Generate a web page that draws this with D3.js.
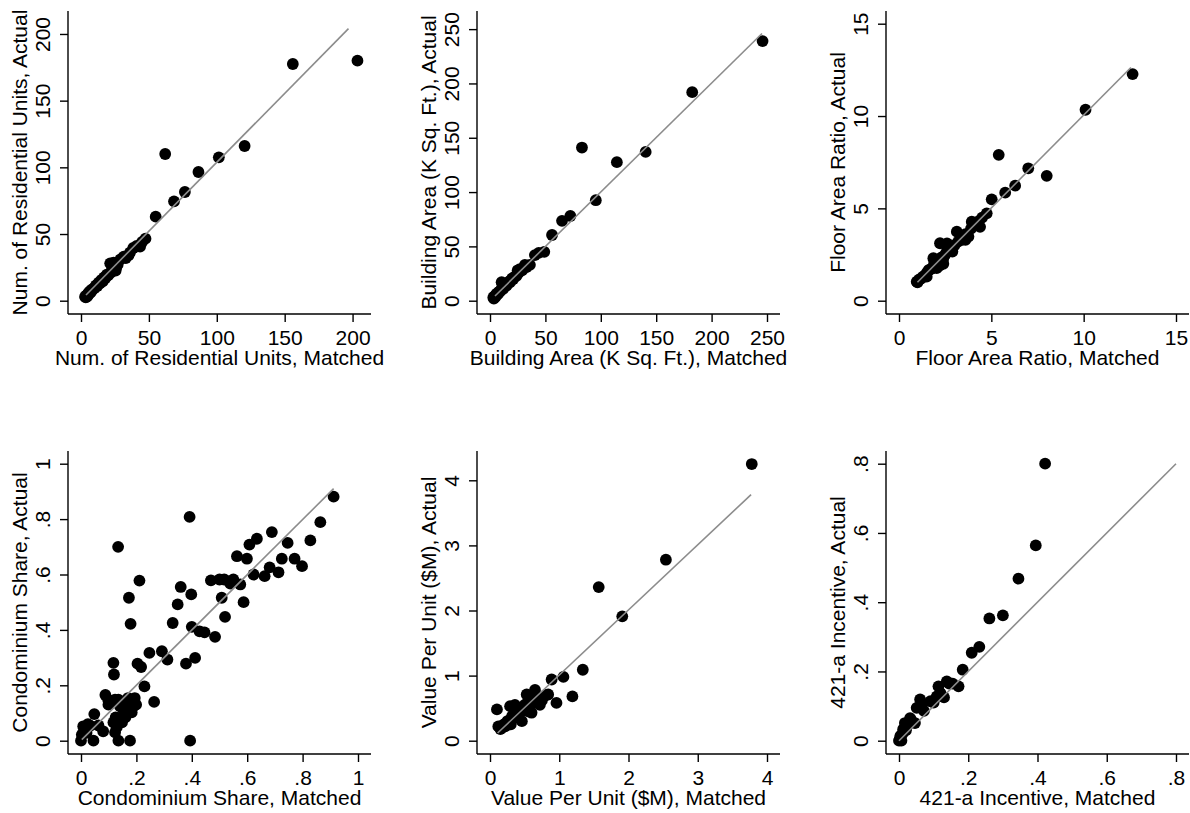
<!DOCTYPE html>
<html>
<head>
<meta charset="utf-8">
<script src="https://cdn.jsdelivr.net/npm/d3@7"></script>
<style>
  body { margin: 0; background: #fff; }
  svg { display: block; font-family: "Liberation Sans", Arial, sans-serif; }
</style>
</head>
<body>
<script>
// matched vs actual, one pair of arrays per panel
var unitsMatched = [203.6,156,120.5,101.5,86.5,62,76.5,68.5,55,47.5,43.5,38.5,31.5,29,21.5,25.5,24,
  3,3.5,4,4.5,5,5.5,6,7,7.5,8,9,10,11,12,13,14,15,16,17,18,19,20,22,23,26,27,33,35,36,41,45];
var unitsActual = [180,177.5,116,107.5,96.5,110,81.5,74.5,63,46.5,40.5,39.5,33,31,28,22.5,28.5,
  3,2.5,4,3,5,4.5,6.5,6,8,7.5,9,9.5,11.5,11,13.5,13,15.5,14.5,17.5,17,19.5,19,21,24,25,27,32,34,36,41,44];

var areaMatched = [246,182.5,140.5,114.5,83,95.5,72.5,65,56,49,44,40.5,36,31.5,27,25,10.5,
  3,3.5,4,5,5,6,7,8,9,10,11,12,13,14,15,16,17,18,19,20,21,22,24,26,29,33];
var areaActual = [239,192,137,127.5,141,92.5,78,73.5,60.5,45,44,42,33,33,29,28,17,
  3,2,4,5,3.5,6.5,6,8,8.5,10,11.5,11,13,14.5,14,16,17.5,17,19,20.5,20,22,23,26,28,31];

var farMatched = [12.65,10.1,5.4,7.0,8.0,6.29,5.75,5.02,4.75,4.5,4.39,3.94,3.13,3.76,3.4,2.22,2.89,1.86,2.04,0.96,
  1.0,1.1,1.2,1.3,1.4,1.5,1.6,1.7,1.8,1.9,2.0,2.1,2.2,2.3,2.4,2.5,2.6,2.7,2.8,3.0,3.2,3.4,3.6,3.9,4.1,4.3,2.6,2.4,2.2,1.5,3.6];
var farActual = [12.27,10.34,7.9,7.17,6.76,6.23,5.85,5.49,4.73,4.5,4.0,4.28,3.74,3.47,3.29,3.11,2.66,2.3,1.76,1.03,
  1.0,1.15,1.2,1.3,1.35,1.5,1.65,1.7,1.75,2.0,2.05,2.1,2.2,2.35,2.3,2.5,2.7,2.75,2.85,3.0,3.2,3.5,3.6,3.9,4.1,4.3,3.1,2.0,1.9,1.3,3.3];

var condoMatched = [0.912,0.864,0.828,0.689,0.635,0.608,0.746,0.563,0.599,0.725,0.771,0.798,0.623,0.663,0.681,0.713,
  0.575,0.539,0.517,0.5,0.469,0.55,0.508,0.587,0.52,0.484,0.446,0.428,0.4,0.398,0.36,0.349,0.331,0.392,0.412,0.379,
  0.312,0.292,0.247,0.217,0.204,0.211,0.173,0.179,0.134,0.117,0.119,0.229,0.264,0.088,0.099,0.048,0.177,0.394,0.135,
  0.045,0,0.008,0.033,0.08,0.063,0.02,0.003,0.123,0.141,0.165,0.189,0.199,0.183,0.154,0.125,0.117,0.129,0.123,0.135,
  0.17,0.105,0.16,0.148,0.194,0.098,0.012,0.025];
var condoActual = [0.881,0.789,0.723,0.753,0.729,0.708,0.714,0.666,0.657,0.657,0.657,0.63,0.6,0.594,0.626,0.608,
  0.564,0.567,0.582,0.582,0.579,0.582,0.516,0.5,0.447,0.375,0.391,0.395,0.411,0.528,0.555,0.492,0.425,0.808,0.299,0.278,
  0.293,0.323,0.317,0.266,0.278,0.578,0.516,0.422,0.7,0.281,0.239,0.196,0.14,0.165,0.13,0.096,0,0,0,
  0,0,0.052,0.054,0.034,0.055,0.028,0.022,0.148,0.124,0.136,0.124,0.13,0.102,0.108,0.084,0.066,0.049,0.03,0.148,
  0.154,0.136,0.084,0.066,0.154,0.148,0.04,0.06];

var valueMatched = [3.78,2.54,1.57,1.91,1.34,1.06,1.19,0.89,0.96,0.1,0.84,0.65,0.53,0.72,0.36,0.46,0.6,0.12,
  0.15,0.18,0.2,0.22,0.25,0.28,0.3,0.32,0.35,0.38,0.4,0.42,0.45,0.48,0.5,0.52,0.55,0.58,0.6,0.62,0.65,0.68,0.7,0.75,0.78,0.8,0.55,0.4,0.3,0.29];
var valueActual = [4.25,2.78,2.36,1.91,1.09,0.98,0.68,0.94,0.58,0.48,0.71,0.78,0.71,0.55,0.55,0.3,0.43,0.22,
  0.18,0.2,0.25,0.22,0.3,0.26,0.33,0.38,0.35,0.42,0.4,0.47,0.45,0.5,0.55,0.48,0.6,0.55,0.62,0.58,0.68,0.6,0.65,0.62,0.68,0.7,0.45,0.5,0.25,0.53];

var incentiveMatched = [0.422,0.395,0.345,0.3,0.261,0.232,0.21,0.184,0.172,0.138,0.145,0.114,0.12,0.109,0.1,0.091,
  0.061,0.065,0.051,0.072,0.046,0.032,0.035,0.025,0.017,0.012,0.002,0.007,0.004,0,0.01,0.02,0.13,0.155];
var incentiveActual = [0.8,0.564,0.468,0.362,0.353,0.271,0.254,0.205,0.157,0.171,0.165,0.157,0.137,0.128,0.11,0.114,
  0.119,0.1,0.095,0.086,0.051,0.065,0.06,0.045,0.051,0.033,0.004,0,0.014,0,0.02,0.03,0.125,0.165];

// 45-degree reference line ends [start, end]
var lineMatched = [[3.7,197],[4.5,245.5],[1.0,12.56],[0.003,0.912],[0.11,3.77],[0,0.8]];
var lineActual = [[4.3,204],[4.3,246],[1.0,12.63],[0.004,0.91],[0.118,3.78],[0,0.8]];

var titles = ['Num. of Residential Units', 'Building Area (K Sq. Ft.)', 'Floor Area Ratio',
  'Condominium Share', 'Value Per Unit ($M)', '421-a Incentive'];
var ticks = [[0,50,100,150,200],[0,50,100,150,200,250],[0,5,10,15],
  [0,0.2,0.4,0.6,0.8,1],[0,1,2,3,4],[0,0.2,0.4,0.6,0.8]];
var xMax = [204, 250, 15, 1, 4, 0.8];
var yMax = [207.7, 255, 15, 1, 4.255, 0.8];

var W = 1190, H = 813,
    box = 303,            // plot region size
    lefts = [68, 477, 886],
    tops = [11, 451];

var fmt = v => (v > 0 && v < 1) ? String(v).replace(/^0/, '') : String(v);

var matched = [unitsMatched, areaMatched, farMatched, condoMatched, valueMatched, incentiveMatched],
    actual = [unitsActual, areaActual, farActual, condoActual, valueActual, incentiveActual];

var svg = d3.select('body').append('svg')
    .attr('width', W)
    .attr('height', H);

svg.append('rect').attr('width', W).attr('height', H).attr('fill', '#fff');

titles.forEach((title, i) => {
    var g = svg.append('g')
        .attr('transform', 'translate(' + lefts[i % 3] + ',' + tops[Math.floor(i / 3)] + ')');

    var x = d3.scaleLinear().domain([0, xMax[i]]).range([13, 290]),
        y = d3.scaleLinear().domain([0, yMax[i]]).range([box - 13.3, 12.7]);

    var pts = matched[i].map((m, j) => ({ x: m, y: actual[i][j] }));

    g.selectAll('circle')
        .data(pts)
        .enter()
        .append('circle')
        .attr('cx', d => x(d.x))
        .attr('cy', d => y(d.y))
        .attr('r', 5.9)
        .attr('fill', '#000');

    g.append('line')
        .attr('x1', x(lineMatched[i][0]))
        .attr('y1', y(lineActual[i][0]))
        .attr('x2', x(lineMatched[i][1]))
        .attr('y2', y(lineActual[i][1]))
        .attr('stroke', '#8c8c8c')
        .attr('stroke-width', 1.6);

    // x axis
    var xa = g.append('g')
        .attr('transform', 'translate(0,' + box + ')')
        .call(d3.axisBottom(x).tickValues(ticks[i]).tickFormat(fmt).tickSize(8));
    xa.select('.domain').remove();
    xa.selectAll('line').attr('stroke', '#000').attr('stroke-width', 1.4);
    xa.selectAll('text')
        .attr('y', 31)
        .attr('dy', null)
        .attr('fill', '#000')
        .style('font-size', '21px');
    g.append('line')
        .attr('x1', 0).attr('x2', box)
        .attr('y1', box).attr('y2', box)
        .attr('stroke', '#000').attr('stroke-width', 1.4);

    // y axis
    var ya = g.append('g')
        .call(d3.axisLeft(y).tickValues(ticks[i]).tickFormat(fmt).tickSize(8));
    ya.select('.domain').remove();
    ya.selectAll('line').attr('stroke', '#000').attr('stroke-width', 1.4);
    ya.selectAll('text')
        .attr('x', null)
        .attr('dy', null)
        .attr('text-anchor', 'middle')
        .attr('transform', 'translate(-18,0) rotate(-90)')
        .attr('fill', '#000')
        .style('font-size', '21px');
    g.append('line')
        .attr('x1', 0).attr('x2', 0)
        .attr('y1', 0).attr('y2', box)
        .attr('stroke', '#000').attr('stroke-width', 1.4);

    // axis titles
    g.append('text')
        .attr('x', 151.5)
        .attr('y', box + 51)
        .attr('text-anchor', 'middle')
        .style('font-size', '21px')
        .text(title + ', Matched');
    g.append('text')
        .attr('transform', 'translate(-41,' + 151.5 + ') rotate(-90)')
        .attr('text-anchor', 'middle')
        .style('font-size', '21px')
        .text(title + ', Actual');
});
</script>
</body>
</html>
